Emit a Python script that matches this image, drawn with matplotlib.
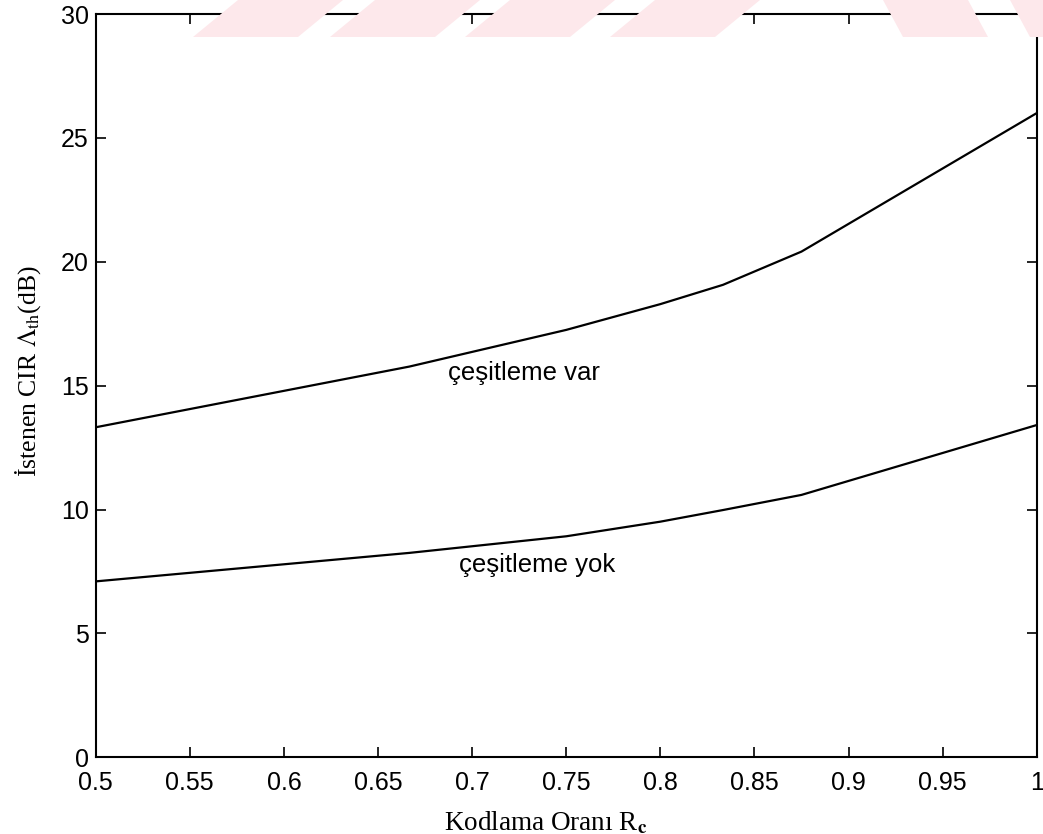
import numpy as np
import matplotlib
matplotlib.use("Agg")
import matplotlib.pyplot as plt
from matplotlib.patches import Polygon


# -------------------------
# Data
# -------------------------

code_rate = [0.5, 2/3, 0.75, 0.8, 5/6, 0.875, 1.0]

cir_div = [13.32, 15.77, 17.25, 18.29, 19.07, 20.41, 26.0]     # cesitleme var
cir_nodiv = [7.10, 8.25, 8.92, 9.51, 9.98, 10.59, 13.41]       # cesitleme yok

xticks = [0.5, 0.55, 0.6, 0.65, 0.7, 0.75, 0.8, 0.85, 0.9, 0.95, 1.0]
xtick_labels = ["0.5", "0.55", "0.6", "0.65", "0.7", "0.75",
                "0.8", "0.85", "0.9", "0.95", "1"]
yticks = [0, 5, 10, 15, 20, 25, 30]
ytick_labels = ["0", "5", "10", "15", "20", "25", "30"]


# -------------------------
# Figure
# -------------------------

plt.rcParams["mathtext.fontset"] = "stix"

W, H = 1043, 834
fig = plt.figure(figsize=(W / 100, H / 100), dpi=100)
ax = fig.add_axes([95.7 / W, 1 - 757.3 / H, (1036.7 - 95.7) / W, (757.3 - 14) / H])
ax.set_facecolor("none")

# faint watermark stripes along the top edge (scan artefact)
stripe_col = "#fde8eb"
for x0 in [193, 330, 465, 610]:
    pts = [(x0, H - 37), (x0 + 105, H - 37), (x0 + 150, H), (x0 + 45, H)]
    fig.patches.append(Polygon(pts, closed=True, transform=None,
                               facecolor=stripe_col, edgecolor="none", zorder=0))
for x0 in [883, 1010]:
    pts = [(x0 + 20, H - 37), (x0 + 105, H - 37), (x0 + 85, H), (x0, H)]
    fig.patches.append(Polygon(pts, closed=True, transform=None,
                               facecolor=stripe_col, edgecolor="none", zorder=0))

ax.plot(code_rate, cir_div, color="black", lw=1.6)
ax.plot(code_rate, cir_nodiv, color="black", lw=1.6)

ax.text(0.687, 15.5, "çeşitleme var", fontsize=18.5, family="Liberation Sans",
        va="center", ha="left")
ax.text(0.693, 7.76, "çeşitleme yok", fontsize=18.5, family="Liberation Sans",
        va="center", ha="left")

ax.set_xlim(0.5, 1.0)
ax.set_ylim(0, 30)
ax.set_xticks(xticks)
ax.set_xticklabels(xtick_labels)
ax.set_yticks(yticks)
ax.set_yticklabels(ytick_labels)

ax.tick_params(direction="in", length=7, width=1.2, top=True, right=True,
               labelsize=18)
ax.tick_params(axis="x", pad=10)
ax.tick_params(axis="y", pad=5)
for lab in ax.get_xticklabels() + ax.get_yticklabels():
    lab.set_family("Liberation Sans")

for sp in ax.spines.values():
    sp.set_linewidth(1.5)

ax.set_xlabel("Kodlama Oranı R$_{\\mathbf{c}}$", family="Liberation Serif",
              fontsize=19.5, labelpad=3)
ax.xaxis.set_label_coords(0.478, -0.07)
ax.set_ylabel("İstenen CIR $\\Lambda_{\\mathrm{th}}$(dB)", family="Liberation Serif",
              fontsize=18.5)
ax.yaxis.set_label_coords(-0.056, 0.52)

fig.savefig("out.png", dpi=100)
plt.close(fig)
